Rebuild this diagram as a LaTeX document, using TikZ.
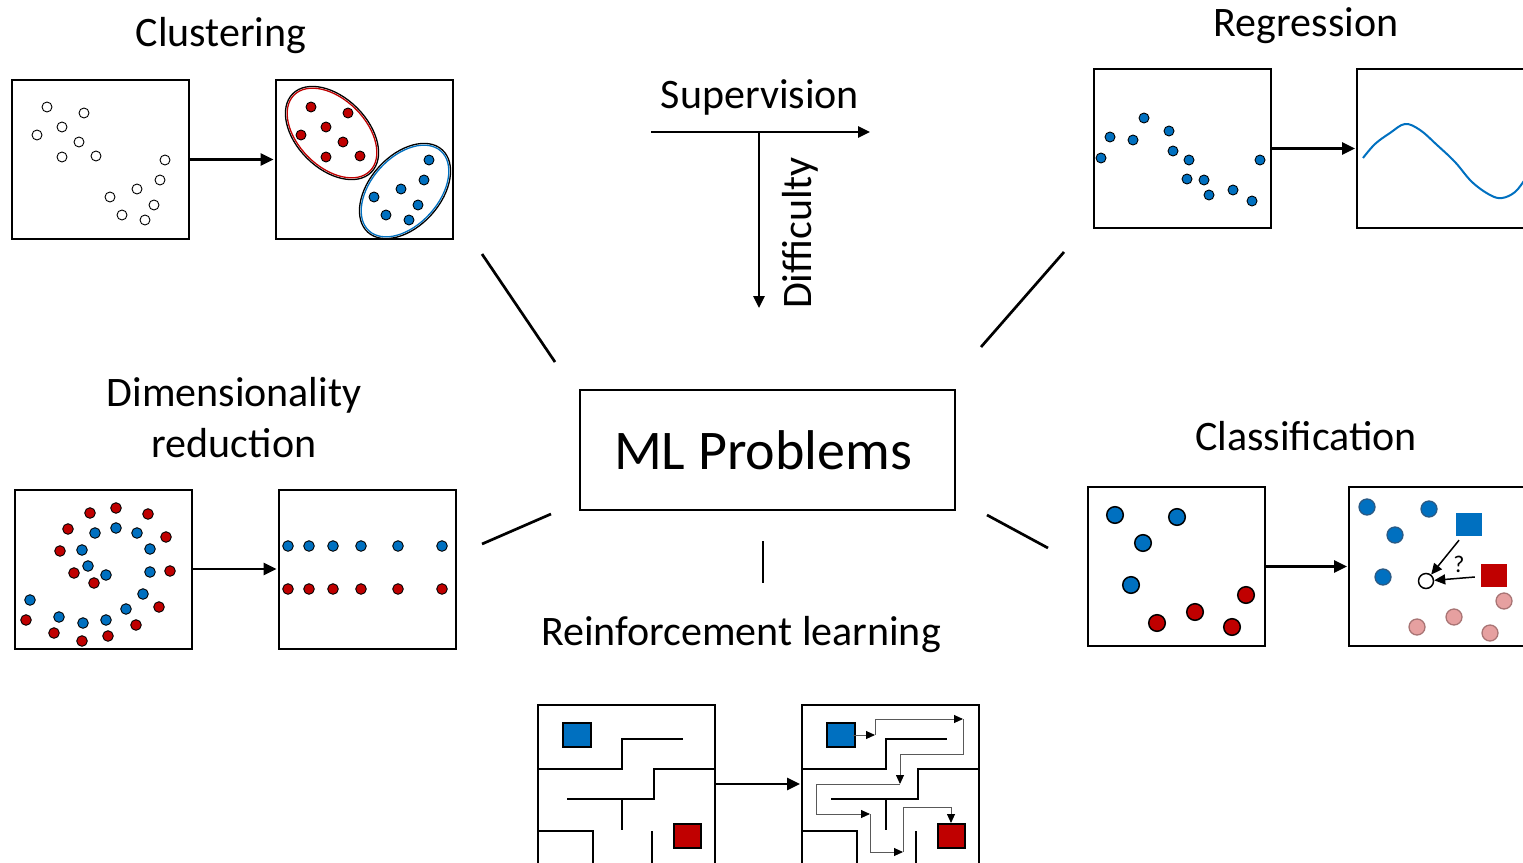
\documentclass[tikz,border=0pt]{standalone}
\usepackage{fontspec}
\setmainfont{Carlito}
\usetikzlibrary{arrows.meta}
\definecolor{ptblue}{HTML}{0070C0}
\definecolor{ptred}{HTML}{C00000}
\definecolor{ptpink}{HTML}{E6A0A0}
\definecolor{ptpinkedge}{HTML}{A87474}
\definecolor{ptblueedge}{HTML}{2A5A85}
\begin{document}
\begin{tikzpicture}[x=1pt,y=-1pt,
  panel/.style={draw=black, line width=2pt, minimum width=177pt, minimum height=159pt, inner sep=0pt, outer sep=0pt},
  flow/.style={line width=2.8pt, -{Triangle[length=13pt,width=12pt]}, shorten >=2pt},
  spoke/.style={line width=2.7pt},
  axisarrow/.style={line width=2.7pt, -{Triangle[length=12pt,width=11pt]}},
  label/.style={font=\fontsize{42}{50}\selectfont, anchor=base, inner sep=0pt},
  wall/.style={line width=1.4pt},
  route/.style={line width=0.9pt, draw=black!65, -{Triangle[length=9pt,width=8pt,color=black]}},
  qarrow/.style={line width=1.5pt, -{Triangle[length=11pt,width=10pt]}}
]
\useasboundingbox (0,0) rectangle (1523,862);
\clip (0,0) rectangle (1523,862);

% ---------- centre ----------
\node[draw=black, line width=1.6pt, minimum width=375pt, minimum height=120pt, inner sep=0pt] (ml) at (767.5,450) {};
\node[font=\fontsize{56}{64}\selectfont, anchor=base, inner sep=0pt] (mltext) at (763,469) {ML Problems};

\coordinate (s1a) at (482,254);  \coordinate (s1b) at (555,362);
\coordinate (s2a) at (1064,252); \coordinate (s2b) at (981,347);
\coordinate (s3a) at (482,544);  \coordinate (s3b) at (551,514);
\coordinate (s4a) at (987,515);  \coordinate (s4b) at (1048,548);
\coordinate (s5a) at (763,541);  \coordinate (s5b) at (763,583);
\draw[spoke] (s1a) -- (s1b);
\draw[spoke] (s2a) -- (s2b);
\draw[spoke] (s3a) -- (s3b);
\draw[spoke] (s4a) -- (s4b);
\draw[spoke] (s5a) -- (s5b);

% supervision / difficulty axes
\coordinate (supA) at (651,132); \coordinate (supB) at (870,132);
\coordinate (difA) at (759,132); \coordinate (difB) at (759,308);
\draw[axisarrow] (supA) -- (supB);
\draw[axisarrow] (difA) -- (difB);
\node[label] (suplab) at (760,108) {Supervision};
\node[label, rotate=90] (diflab) at (811,233) {Difficulty};

% ---------- clustering ----------
\node[label] (clulab) at (221,46) {Clustering};
\node[panel] (c1) at (100.5,159.5) {};
\node[panel] (c2) at (364,159.5) {};
\draw[flow] (c1) -- (c2);
\foreach \x/\y in {47/107,84/113,62/127,37/135,79/142,62/157,96/156,165/160,160/180,137/189,110/197,154/205,122/215,145/220}
  \draw[line width=0.9pt, fill=white] (\x,\y) circle[radius=5pt];
% cluster outlines
\draw[black, line width=1.3pt, rotate around={-45:(332,133)}] (332,133) ellipse [x radius=55.5pt, y radius=35.5pt];
\draw[ptred, line width=1.3pt, rotate around={-45:(332,133)}] (332,133) ellipse [x radius=53.7pt, y radius=33.7pt];
\draw[black, line width=1.3pt, rotate around={48:(405,191)}] (405,191) ellipse [x radius=55.5pt, y radius=35.5pt];
\draw[ptblue, line width=1.3pt, rotate around={48:(405,191)}] (405,191) ellipse [x radius=53.7pt, y radius=33.7pt];
\foreach \x/\y in {311/107,348/113,326/127,301/135,343/142,326/157,360/156}
  \draw[line width=0.9pt, fill=ptred] (\x,\y) circle[radius=5pt];
\foreach \x/\y in {429/160,424/180,401/189,374/197,418/205,386/215,409/220}
  \draw[line width=0.9pt, fill=ptblue] (\x,\y) circle[radius=5pt];

% ---------- regression ----------
\node[label] (reglab) at (1306,36) {Regression};
\node[panel] (r1) at (1182,148.5) {};
\node[panel] (r2) at (1445.5,148.5) {};
\draw[flow] (r1) -- (r2);
\foreach \x/\y in {1101/158,1110/137,1133/140,1144/118,1169/131,1173/151,1189/160,1187/179,1204/180,1209/195,1233/190,1252/201,1260/160}
  \draw[line width=0.9pt, fill=ptblue] (\x,\y) circle[radius=5pt];
\draw[ptblue, line width=2pt] plot[smooth, tension=0.6] coordinates {(1363,158) (1375,144) (1390,133) (1405,124) (1420,130) (1437,145) (1455,162) (1472,182) (1490,195) (1502,198) (1515,192) (1526,178) (1535,165)};

% ---------- dimensionality reduction ----------
\node[label] (dimlab1) at (234,406) {Dimensionality};
\node[label] (dimlab2) at (234,457) {reduction};
\node[panel] (d1) at (103.5,569) {};
\node[panel] (d2) at (367,569) {};
\draw[flow] (d1) -- (d2);
\foreach \x/\y in {90/513,116/508,148/514,68/529,166/537,60/551,170/571,74/573,94/583,159/607,26/620,136/625,54/633,82/641,108/636}
  \draw[line width=0.9pt, fill=ptred] (\x,\y) circle[radius=5.3pt];
\foreach \x/\y in {95/533,116/528,137/533,82/550,150/549,88/566,106/575,150/572,143/594,30/600,126/609,59/617,106/620,83/623}
  \draw[line width=0.9pt, fill=ptblue] (\x,\y) circle[radius=5.3pt];
\foreach \x in {288,309,333,361,398,442} {
  \draw[line width=0.9pt, fill=ptblue] (\x,546) circle[radius=5.3pt];
  \draw[line width=0.9pt, fill=ptred] (\x,589) circle[radius=5.3pt];
}

% ---------- classification ----------
\node[label] (clslab) at (1306,450) {Classification};
\node[panel] (k1) at (1176.5,566.5) {};
\node[panel] (k2) at (1437.5,566.5) {};
\draw[flow] (k1) -- (k2);
\foreach \x/\y in {1115/515,1177/517,1143/543,1131/585}
  \draw[line width=1.5pt, fill=ptblue] (\x,\y) circle[radius=8.3pt];
\foreach \x/\y in {1246/595,1195/612,1157/623,1232/627}
  \draw[line width=1.5pt, fill=ptred] (\x,\y) circle[radius=8.3pt];
\foreach \x/\y in {1367/507,1429/509,1395/535,1383/577}
  \draw[line width=1.3pt, draw=ptblueedge, fill=ptblue] (\x,\y) circle[radius=8pt];
\foreach \x/\y in {1504/601,1454/617,1417/627,1490/633}
  \draw[line width=1.3pt, draw=ptpinkedge, fill=ptpink] (\x,\y) circle[radius=8pt];
\node[fill=ptblue, minimum width=26pt, minimum height=23pt, inner sep=0pt] (bsq) at (1469,524.5) {};
\node[fill=ptred, minimum width=26pt, minimum height=23pt, inner sep=0pt] (rsq) at (1494,575.5) {};
\node[circle, draw=black, line width=1.5pt, fill=white, minimum size=15pt, inner sep=0pt] (query) at (1426,581) {};
\draw[qarrow] ([xshift=-10pt,yshift=-4pt]bsq.south) -- (query);
\draw[qarrow] ([xshift=-6pt,yshift=-1.5pt]rsq.west) -- (query);
\node[font=\fontsize{24}{28}\selectfont, inner sep=0pt] (qmark) at (1459,564) {?};

% ---------- reinforcement learning ----------
\node[label] (rllab) at (741,645) {Reinforcement learning};
\node[panel] (m1) at (626.5,784) {};
\node[panel] (m2) at (890.5,784) {};
\draw[flow] (m1) -- (m2);
\foreach \ox in {538,802} {
  \begin{scope}[shift={(\ox,704)}]
    \draw[wall] (0,65) -- (84,65) -- (84,35) -- (145,35);
    \draw[wall] (177,65) -- (116,65) -- (116,95) -- (29,95);
    \draw[wall] (84,95) -- (84,126);
    \draw[wall] (0,127) -- (55,127) -- (55,165);
    \draw[wall] (114,127) -- (114,165);
    \draw[line width=1.5pt, fill=ptblue] (25,19) rectangle (53,43);
    \draw[line width=1.5pt, fill=ptred] (136,120) rectangle (163,144);
  \end{scope}
}
\begin{scope}[shift={(802,704)}]
  \coordinate (p0) at (51,31);
  \coordinate (p1) at (73,31);
  \coordinate (p2) at (161,15);
  \coordinate (p3) at (98,80);
  \coordinate (p4) at (68,110);
  \coordinate (p5) at (101,148);
  \coordinate (p6) at (149,119);
  \draw[route] (p0) -- (p1);
  \draw[route] (p1) -- (73,15) -- (p2);
  \draw[route] (p2) -- (161,50) -- (98,50) -- (p3);
  \draw[route] (p3) -- (14,80) -- (14,110) -- (p4);
  \draw[route] (p4) -- (68,148) -- (p5);
  \draw[route] (p5) -- (101,103) -- (149,103) -- (p6);
\end{scope}
\end{tikzpicture}
\end{document}
